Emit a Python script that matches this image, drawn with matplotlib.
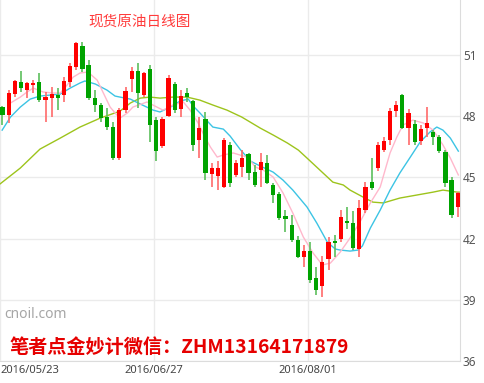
import numpy as np
import matplotlib.pyplot as plt
import matplotlib.transforms as mtransforms

plt.rcParams['font.family'] = ['Noto Sans CJK SC', 'DejaVu Sans']

# 日K数据 (2016/05/23 起, 75 根)
opens = [48.45, 48.06, 49.09, 49.69, 49.28, 49.53, 49.69, 48.79, 48.91, 49.04,
         49.04, 49.69, 50.43, 51.44, 50.51, 48.88, 48.55, 47.95, 47.49, 45.94,
         48.30, 49.82, 50.22, 49.04, 50.31, 47.81, 46.54, 48.01, 49.58, 48.35,
         49.14, 48.75, 46.83, 47.86, 45.17, 45.07, 44.53, 46.59, 45.12, 45.51,
         46.15, 45.26, 45.36, 45.71, 44.63, 44.19, 43.11, 42.67, 41.93, 41.10,
         41.39, 40.07, 39.68, 41.00, 41.88, 41.98, 42.86, 42.76, 41.49, 43.40,
         44.77, 45.46, 46.34, 46.83, 48.25, 49.04, 47.42, 47.62, 46.78, 47.42,
         47.23, 46.98, 46.25, 44.87, 43.55]
highs = [48.50, 49.28, 49.77, 50.23, 49.69, 49.77, 50.13, 49.20, 49.45, 49.37,
         49.94, 50.59, 51.65, 51.65, 50.75, 49.28, 48.65, 48.39, 47.73, 48.39,
         49.43, 50.41, 50.61, 50.17, 50.51, 47.96, 47.96, 50.02, 49.68, 49.28,
         49.38, 48.79, 47.96, 48.21, 45.71, 45.80, 46.93, 46.74, 45.85, 46.34,
         46.20, 45.61, 46.20, 46.10, 44.73, 44.28, 43.40, 43.16, 42.13, 41.69,
         41.83, 40.61, 41.15, 42.08, 42.18, 43.40, 43.55, 43.35, 43.89, 44.77,
         45.95, 46.74, 46.98, 48.40, 48.75, 49.09, 48.35, 47.81, 47.57, 48.45,
         47.32, 47.08, 46.34, 45.02, 44.28]
lows = [47.57, 47.65, 48.96, 49.20, 48.88, 49.12, 48.71, 47.73, 47.98, 48.30,
        48.71, 49.45, 50.26, 50.18, 48.79, 48.22, 47.73, 47.32, 45.85, 45.85,
        48.16, 49.19, 48.40, 48.94, 46.74, 45.80, 46.44, 47.96, 48.16, 47.96,
        48.70, 46.29, 45.95, 44.87, 44.53, 44.38, 44.48, 44.53, 45.02, 45.02,
        44.87, 44.53, 44.53, 44.68, 43.75, 42.91, 42.32, 41.83, 41.05, 40.61,
        39.82, 39.24, 39.14, 40.46, 41.10, 41.83, 42.47, 41.44, 41.10, 43.25,
        44.38, 45.31, 46.25, 46.59, 47.96, 47.37, 46.59, 46.59, 46.59, 46.98,
        46.59, 46.20, 44.53, 43.01, 43.06]
closes = [48.06, 49.12, 49.74, 49.37, 49.61, 49.64, 48.79, 48.96, 49.07, 48.88,
          49.74, 50.46, 51.57, 50.30, 48.88, 48.55, 47.90, 47.49, 45.94, 48.30,
          49.24, 50.22, 49.14, 50.12, 47.57, 46.29, 47.86, 49.87, 48.30, 48.99,
          48.94, 46.59, 47.42, 45.22, 45.46, 45.46, 46.83, 44.73, 45.71, 45.95,
          45.22, 44.63, 45.75, 44.73, 44.14, 43.01, 42.96, 41.93, 41.10, 41.39,
          39.97, 39.48, 40.85, 41.83, 41.81, 43.06, 42.76, 41.54, 43.50, 44.53,
          44.48, 46.59, 46.78, 48.25, 48.55, 47.42, 48.16, 46.74, 47.37, 47.67,
          46.98, 46.29, 44.73, 43.16, 44.24]

# 均线 (读图取点: 位置, 价格)
ma5_x = [1.3, 2.9, 4.0, 5.0, 6.6, 8.2, 9.4, 10.5, 11.5, 12.6, 13.9, 15.4, 16.4,
         17.5, 18.6, 19.1, 20.3, 21.2, 23.5, 25.1, 26.1, 27.7, 29.4, 30.5, 31.8,
         32.9, 33.8, 34.9, 35.9, 37.5, 38.6, 39.8, 41.1, 42.4, 44.0, 45.6, 47.2,
         48.9, 50.5, 52.0, 53.3, 54.9, 56.5, 58.1, 59.8, 61.4, 63.0, 64.1, 65.1,
         66.7, 68.4, 70.0, 71.6, 72.8, 74.1]
ma5_y = [48.65, 48.94, 49.19, 49.38, 49.19, 49.14, 49.14, 49.53, 49.92, 50.12,
         50.17, 49.77, 49.14, 48.45, 48.06, 47.91, 48.16, 48.45, 48.70, 48.45,
         48.30, 48.55, 48.70, 48.30, 47.67, 46.98, 46.49, 46.00, 46.10, 46.20,
         46.10, 46.00, 45.51, 45.36, 45.02, 44.24, 43.25, 42.08, 41.29, 40.71,
         40.80, 41.34, 42.03, 42.81, 43.75, 44.53, 46.20, 46.98, 47.57, 47.81,
         47.67, 47.32, 46.59, 45.95, 45.12]
ma10_x = [-0.05, 1.3, 2.9, 4.5, 6.1, 7.8, 9.4, 11.0, 12.6, 13.4, 15.1, 17.0,
          18.3, 19.1, 20.8, 22.4, 24.5, 25.6, 27.3, 28.9, 30.2, 31.0, 32.1, 33.3,
          34.2, 35.9, 37.0, 38.6, 40.3, 41.9, 44.0, 45.6, 47.2, 49.5, 51.1, 52.8,
          54.1, 54.9, 56.5, 57.8, 58.5, 59.8, 61.4, 63.0, 64.6, 66.3, 67.9, 69.5,
          70.6, 71.6, 72.8, 74.1]
ma10_y = [47.32, 47.96, 48.45, 48.84, 48.99, 49.04, 49.09, 49.38, 49.63, 49.73,
          49.58, 49.28, 48.99, 48.94, 48.84, 48.60, 48.30, 48.21, 48.45, 48.75,
          48.84, 48.50, 48.16, 47.76, 47.47, 47.37, 47.03, 46.39, 45.80, 45.56,
          45.26, 44.87, 44.38, 43.55, 42.76, 41.83, 41.49, 41.44, 41.39, 41.44,
          41.64, 42.52, 43.40, 44.38, 45.22, 46.00, 46.74, 47.23, 47.47, 47.32,
          46.93, 46.29]
ma30_x = [-0.4, 2.9, 6.1, 9.4, 12.6, 15.9, 19.1, 20.8, 22.4, 24.0, 25.6, 27.7,
          30.0, 32.1, 34.2, 36.5, 38.9, 41.9, 44.0, 46.3, 48.1, 49.5, 51.6, 53.7,
          55.4, 56.5, 58.6, 60.2, 61.9, 64.6, 67.4, 70.0, 71.6, 73.9, 74.4]
ma30_y = [44.68, 45.46, 46.39, 46.93, 47.47, 47.91, 48.25, 48.65, 48.89, 48.94,
          48.89, 48.94, 48.94, 48.79, 48.55, 48.30, 47.96, 47.42, 47.08, 46.69,
          46.34, 45.95, 45.36, 44.77, 44.63, 44.38, 44.04, 43.79, 43.75, 43.99,
          44.14, 44.28, 44.38, 44.28, 44.28]

date_labels = ['2016/05/23', '2016/06/27', '2016/08/01']
date_idx = [0, 25, 50]
y_ticks = [36, 39, 42, 45, 48, 51]

fig = plt.figure(figsize=(4.84, 3.83), dpi=100)
ax = fig.add_axes([0, 22 / 383, 460 / 484, 361 / 383])

o = np.array(opens)
h = np.array(highs)
l = np.array(lows)
c = np.array(closes)
x = np.arange(len(o))
up = c >= o

ax.plot(ma30_x, ma30_y, color='#9dc41c', lw=1.0, zorder=1)
ax.plot(ma10_x, ma10_y, color='#3cc4e4', lw=1.0, zorder=1)
ax.plot(ma5_x, ma5_y, color='#ffb8cc', lw=1.0, zorder=1)

red, green = '#ff0000', '#00a300'
ax.vlines(x[up], l[up], h[up], color='#ff6a6a', lw=1.2, zorder=2)
ax.vlines(x[~up], l[~up], h[~up], color='#5cbf5c', lw=1.2, zorder=2)
body = np.maximum(np.abs(c - o), 0.06)
bottom = np.minimum(o, c)
ax.bar(x[up], body[up], 0.68, bottom[up], color=red, zorder=3, linewidth=0)
ax.bar(x[~up], body[~up], 0.68, bottom[~up], color=green, zorder=3, linewidth=0)

ax.set_xlim(-0.37, 74.37)
ax.set_ylim(36, 53.7)

ax.yaxis.tick_right()
ax.set_yticks(y_ticks)
ax.set_yticklabels([str(v) for v in y_ticks], family='Noto Sans', fontsize=8.5,
                   color='#555555')
ax.text(1.004, 54, '54', transform=ax.get_yaxis_transform(), family='Noto Sans',
        fontsize=8.5, color='#555555', va='center', ha='left', clip_on=False)

ax.set_xticks([i - 0.4 for i in date_idx])
ax.set_xticklabels(date_labels, family='Noto Sans', fontsize=8, color='#444444')
first = ax.get_xticklabels()[0]
first.set_ha('left')
first.set_transform(first.get_transform() +
                    mtransforms.ScaledTranslation(8 / 100, 0, fig.dpi_scale_trans))
ax.tick_params(length=0, pad=3)
ax.tick_params(axis='y', pad=2)

ax.grid(True, color='#ebebeb', lw=1.0, zorder=0)
ax.set_axisbelow(True)
for s in ['top', 'left']:
    ax.spines[s].set_visible(False)
for s in ['right', 'bottom']:
    ax.spines[s].set_color('#dcdcdc')

fig.text(140 / 484, 1 - 22 / 383, '现货原油日线图', color='#ff3b3b', fontsize=10.5,
         ha='center', va='center')
fig.text(4 / 484, 1 - 315 / 383, 'cnoil.com', color='#a6a6a6', fontsize=10,
         family='Noto Sans', ha='left', va='center')
fig.text(10 / 484, 1 - 347 / 383, '笔者点金妙计微信：ZHM13164171879', color='#e60000',
         fontsize=13.8, fontweight='bold', ha='left', va='center')

fig.savefig('out.png', dpi=100)
